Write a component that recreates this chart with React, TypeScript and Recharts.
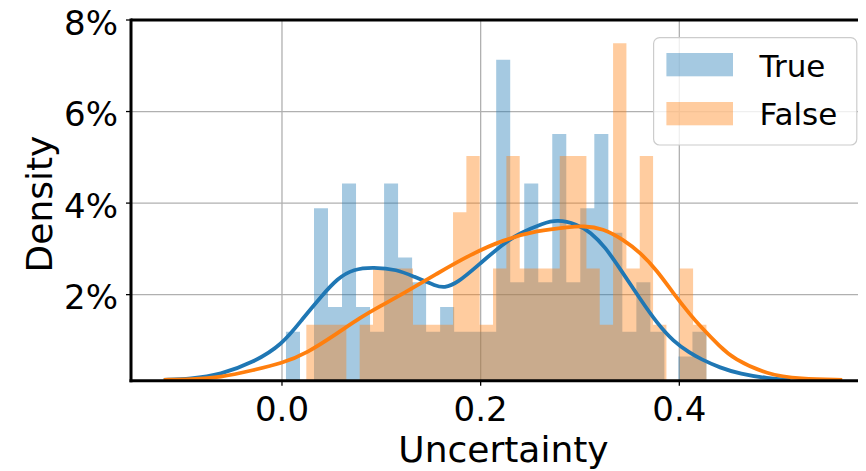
import React from 'react';
import { ComposedChart, Area, Line, XAxis, YAxis, CartesianGrid, Legend, ReferenceLine } from 'recharts';

const FONT = "'DejaVu Sans', 'Liberation Sans', sans-serif";

// ---- data ----
const seriesNames = ['True', 'False'];
const seriesColors = ['#1f77b4', '#ff7f0e'];

const xTicks = [0, 0.2, 0.4];
const yTicks = [0.02, 0.04, 0.06, 0.08];

// histogram "True": 30 bins between start and end, heights in %
const trueBinStart = 0.004;
const trueBinEnd = 0.4273;
const trueHist = [1.19, 0, 3.89, 1.73, 4.43, 1.73, 1.19, 4.43, 2.81, 2.27, 1.19, 1.73, 1.19, 1.19, 1.19,
  7.13, 2.27, 4.43, 2.27, 5.51, 2.27, 3.89, 5.51, 3.35, 1.19, 2.27, 1.19, 0, 0.65, 1.19];

// histogram "False": 30 bins, heights in %
const falseBinStart = 0.0245;
const falseBinEnd = 0.4273;
const falseHist = [1.34, 1.34, 1.34, 0, 1.34, 2.57, 2.57, 2.57, 1.34, 1.34, 1.34, 3.80, 5.03, 1.34, 2.57,
  5.03, 2.57, 2.57, 2.57, 5.03, 5.03, 2.57, 1.34, 7.49, 2.57, 5.03, 1.34, 0, 2.57, 1.34];

// KDE curves (x, density in %)
const trueKdeX = [-0.119, -0.092, -0.062, -0.029, 0.0, 0.021, 0.039, 0.056, 0.072, 0.092, 0.116, 0.132, 0.156,
  0.163, 0.176, 0.2, 0.223, 0.24, 0.263, 0.277, 0.297, 0.3105, 0.3254, 0.3405, 0.3607, 0.3778, 0.3939, 0.411,
  0.4211, 0.4411, 0.4612, 0.4887, 0.5118];
const trueKdeY = [0.14, 0.16, 0.25, 0.52, 0.9, 1.48, 1.95, 2.36, 2.56, 2.6, 2.55, 2.4, 2.18,
  2.15, 2.24, 2.69, 3.12, 3.35, 3.56, 3.64, 3.54, 3.37, 3.04, 2.56, 1.9, 1.37, 0.98, 0.72,
  0.6, 0.4, 0.27, 0.17, 0.14];

const falseKdeX = [-0.119, -0.092, -0.062, -0.029, 0.0, 0.025, 0.056, 0.079, 0.099, 0.122, 0.156, 0.19, 0.223,
  0.257, 0.29, 0.303, 0.323, 0.3436, 0.3607, 0.3778, 0.3939, 0.411, 0.4211, 0.4411, 0.4544, 0.4886, 0.5218, 0.564];
const falseKdeY = [0.14, 0.15, 0.19, 0.35, 0.5, 0.72, 1.16, 1.5, 1.75, 2.02, 2.46, 2.88, 3.2,
  3.4, 3.48, 3.5, 3.45, 3.2, 2.92, 2.52, 2.03, 1.56, 1.31, 0.86, 0.6, 0.25, 0.16, 0.14];

// ---- table built from the arrays ----
function edges(start: number, end: number, n: number) {
  return Array.from({ length: n + 1 }, (_, i) => start + ((end - start) * i) / n);
}
function binAt(x: number, start: number, end: number, heights: number[]) {
  if (x < start - 1e-9 || x >= end - 1e-9) return 0;
  const w = (end - start) / heights.length;
  let i = Math.floor((x - start) / w + 1e-6);
  if (i < 0) i = 0;
  if (i >= heights.length) i = heights.length - 1;
  return heights[i] / 100;
}
const key = (x: number) => x.toFixed(6);
const trueKdeMap = new Map(trueKdeX.map((x, i) => [key(x), trueKdeY[i] / 100]));
const falseKdeMap = new Map(falseKdeX.map((x, i) => [key(x), falseKdeY[i] / 100]));

const allX = new Map<string, number>();
[
  ...edges(trueBinStart, trueBinEnd, trueHist.length),
  ...edges(falseBinStart, falseBinEnd, falseHist.length),
  ...trueKdeX,
  ...falseKdeX,
].forEach((x) => allX.set(key(x), x));

const rows = Array.from(allX.values())
  .sort((a, b) => a - b)
  .map((x) => ({
    x,
    trueHist: binAt(x, trueBinStart, trueBinEnd, trueHist),
    falseHist: binAt(x, falseBinStart, falseBinEnd, falseHist),
    trueKde: trueKdeMap.get(key(x)),
    falseKde: falseKdeMap.get(key(x)),
  }));

// ---- rendering ----
const XTick = (props: any) => {
  const { x, y, payload } = props;
  return (
    <text x={x} y={y + 35.3} textAnchor="middle" fontSize={34} fontFamily={FONT} fill="#000">
      {Number(payload.value).toFixed(1)}
    </text>
  );
};

const YTick = (props: any) => {
  const { x, y, payload } = props;
  return (
    <text x={x} y={y + 14.8} textAnchor="end" fontSize={34} fontFamily={FONT} fill="#000">
      {Math.round(Number(payload.value) * 100) + '%'}
    </text>
  );
};

const LegendBox = () => (
  <svg width={205} height={109} style={{ display: 'block' }}>
    <rect x={0.6} y={0.6} width={203.2} height={107.4} rx={6} fill="#fff" fillOpacity={0.8} stroke="#cccccc" strokeWidth={1.2} />
    {seriesNames.map((n, i) => (
      <g key={n}>
        <rect x={13.4} y={16 + i * 49} width={66.6} height={23.3} fill={seriesColors[i]} fillOpacity={0.4} />
        <text x={106.5} y={40 + i * 48.4} fontSize={31} fontFamily={FONT} fill="#000">
          {n}
        </text>
      </g>
    ))}
  </svg>
);

const spine = { stroke: '#000', strokeWidth: 3, strokeLinecap: 'square' as const };

export default function App() {
  return (
    <div style={{ position: 'relative', width: 858, height: 471, overflow: 'hidden', marginTop: -8 }}>
      <ComposedChart width={880} height={471} data={rows} margin={{ top: 20, right: 12, bottom: 0, left: 0 }}>
        <Area
          dataKey="trueHist"
          name={seriesNames[0]}
          type="stepAfter"
          fill={seriesColors[0]}
          fillOpacity={0.4}
          stroke="none"
          isAnimationActive={false}
        />
        <Area
          dataKey="falseHist"
          name={seriesNames[1]}
          type="stepAfter"
          fill={seriesColors[1]}
          fillOpacity={0.4}
          stroke="none"
          isAnimationActive={false}
        />
        <CartesianGrid stroke="#b0b0b0" strokeWidth={1.3} />
        <Line
          dataKey="trueKde"
          type="basis"
          stroke={seriesColors[0]}
          strokeWidth={3.8}
          dot={false}
          activeDot={false}
          connectNulls
          legendType="none"
          isAnimationActive={false}
        />
        <Line
          dataKey="falseKde"
          type="basis"
          stroke={seriesColors[1]}
          strokeWidth={3.8}
          dot={false}
          activeDot={false}
          connectNulls
          legendType="none"
          isAnimationActive={false}
        />
        <ReferenceLine y={0.08} stroke="#000" strokeWidth={3} />
        <XAxis
          dataKey="x"
          type="number"
          domain={[-0.152, 0.598]}
          ticks={xTicks}
          allowDataOverflow
          height={90.3}
          axisLine={spine}
          tickLine={{ stroke: '#000', strokeWidth: 1.3 }}
          tickSize={5}
          tickMargin={0}
          tick={XTick}
          interval={0}
        />
        <YAxis
          type="number"
          domain={[0.0012, 0.08]}
          ticks={yTicks}
          allowDataOverflow
          width={123}
          axisLine={spine}
          tickLine={{ stroke: '#000', strokeWidth: 1.3 }}
          tickSize={5}
          tickMargin={8}
          tick={YTick}
          interval={0}
        />
        <Legend
          layout="horizontal"
          verticalAlign="middle"
          align="center"
          content={() => <LegendBox />}
          wrapperStyle={{ left: 645.3, top: 36.7, width: 205, height: 109 }}
        />
      </ComposedChart>
      <svg
        width={858}
        height={471}
        style={{ position: 'absolute', left: 0, top: 0, pointerEvents: 'none' }}
      >
        <text x={495.5} y={462} textAnchor="middle" fontSize={36} fontFamily={FONT} fill="#000">
          Uncertainty
        </text>
        <text
          x={43.7}
          y={204}
          textAnchor="middle"
          fontSize={36}
          fontFamily={FONT}
          fill="#000"
          transform="rotate(-90 43.7 204)"
        >
          Density
        </text>
      </svg>
    </div>
  );
}
